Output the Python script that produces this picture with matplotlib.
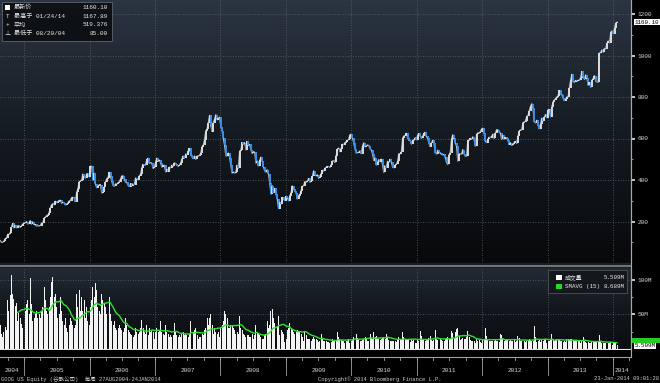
"""
Weekly GOOG price (candles) and volume with a 15 week average, drawn in the
dark Bloomberg terminal style.
"""

# ---------- Imports ---------- #
import numpy as np
import pandas as pd
import matplotlib
matplotlib.use("Agg")
import matplotlib.pyplot as plt
import matplotlib.dates as mdates
from matplotlib.colors import LinearSegmentedColormap
from matplotlib.patches import Rectangle
from matplotlib.lines import Line2D
from matplotlib.transforms import blended_transform_factory

# ---------- Data (weekly closes, one list per year) ---------- #
close_2004 = [108.3, 100.0, 100.0, 105.3, 117.5, 119.8, 137.7, 137.7, 144.1, 172.4,
              190.6, 169.4, 182.0, 169.4, 179.4, 180.4, 171.6, 180.0, 187.9, 192.8]
close_2005 = [193.9, 199.9, 188.3, 190.3, 204.4, 187.4, 197.9, 185.2, 185.9, 177.8,
              180.0, 179.3, 180.0, 192.1, 191.4, 215.8, 220.0, 228.0, 231.0, 241.6,
              266.0, 280.3, 286.3, 280.3, 297.3, 291.3, 296.2, 301.2, 302.4, 287.8,
              292.4, 289.7, 280.0, 283.6, 288.5, 299.1, 300.2, 315.4, 316.5, 312.9,
              296.1, 339.9, 358.2, 390.4, 395.0, 400.2, 428.6, 417.7, 409.2, 430.2,
              430.9, 414.9]
close_2006 = [465.7, 466.3, 399.5, 433.5, 381.6, 362.6, 368.8, 377.4, 378.2, 337.5,
              339.8, 365.8, 390.0, 406.2, 411.2, 437.1, 417.9, 394.3, 374.1, 370.0,
              381.4, 379.4, 386.6, 390.7, 404.9, 419.3, 420.5, 403.5, 390.1, 388.1,
              373.9, 368.5, 383.4, 373.3, 378.6, 377.9, 409.9, 403.8, 401.9, 420.5,
              427.3, 459.7, 475.2, 471.8, 473.6, 498.8, 505.0, 480.8, 484.1, 480.3,
              455.6, 460.5]
close_2007 = [487.2, 505.0, 489.8, 495.8, 481.5, 461.9, 469.9, 470.6, 438.7, 452.9,
              440.9, 461.8, 458.2, 471.5, 466.3, 482.5, 479.0, 471.1, 466.7, 470.3,
              483.5, 500.4, 515.5, 505.9, 524.9, 522.7, 539.4, 552.2, 520.1, 511.9,
              503.0, 515.8, 500.0, 515.0, 515.3, 519.4, 528.8, 560.1, 567.3, 594.1,
              637.4, 644.7, 674.6, 711.3, 663.0, 633.6, 676.7, 693.0, 714.9, 690.0,
              696.7, 702.5]
close_2008 = [657.0, 638.3, 600.3, 566.4, 515.9, 516.7, 529.6, 507.8, 471.2, 433.4,
              437.9, 433.6, 438.1, 471.1, 457.5, 539.4, 544.1, 581.3, 573.2, 580.1,
              544.6, 585.8, 567.0, 571.5, 546.4, 528.1, 537.0, 533.8, 481.3, 492.0,
              467.9, 495.0, 510.2, 490.6, 463.3, 444.3, 437.7, 449.2, 431.0, 386.9,
              332.0, 372.5, 339.3, 359.4, 331.1, 310.0, 262.4, 293.0, 284.0, 315.8,
              310.2, 300.4]
close_2009 = [321.3, 315.1, 299.7, 324.7, 338.5, 371.3, 357.7, 346.5, 338.0, 308.6,
              324.4, 330.2, 347.7, 369.8, 372.5, 392.2, 389.5, 393.7, 407.3, 390.0,
              393.5, 417.2, 444.3, 424.8, 420.1, 425.3, 408.5, 414.4, 430.3, 446.7,
              443.1, 457.1, 460.0, 465.2, 464.8, 461.3, 472.1, 491.5, 492.5, 484.6,
              516.3, 549.9, 553.7, 536.1, 551.1, 572.1, 570.0, 579.8, 585.0, 590.5,
              596.4, 618.5]
close_2010 = [620.0, 602.0, 580.0, 550.0, 529.9, 531.3, 533.1, 540.8, 526.8, 564.2,
              579.5, 560.0, 562.7, 568.8, 566.2, 550.1, 545.0, 525.7, 493.1, 507.5,
              472.1, 485.6, 498.7, 488.5, 500.0, 472.7, 436.6, 467.5, 459.6, 490.1,
              484.9, 500.2, 486.4, 462.0, 458.8, 470.3, 476.1, 490.2, 527.3, 525.6,
              536.4, 601.5, 612.5, 613.7, 625.1, 603.3, 590.8, 590.0, 573.0, 592.2,
              590.8, 604.2, 594.0]
close_2011 = [616.4, 624.2, 611.8, 601.0, 611.0, 624.5, 630.1, 610.0, 600.6, 576.7,
              561.1, 579.7, 591.8, 578.2, 530.7, 525.1, 544.1, 535.3, 529.6, 524.0,
              520.9, 523.1, 509.5, 485.0, 474.9, 521.0, 532.0, 597.6, 618.2, 603.7,
              579.0, 563.8, 490.9, 526.9, 524.8, 524.9, 546.7, 525.5, 515.0, 515.1,
              591.7, 590.5, 600.1, 596.1, 608.4, 594.9, 563.0, 620.4, 627.4, 626.0,
              633.1, 645.9]
close_2012 = [650.0, 625.0, 586.0, 580.0, 596.3, 605.9, 604.6, 609.9, 621.3, 600.3,
              625.0, 642.6, 641.2, 632.3, 624.6, 596.1, 615.0, 597.0, 605.2, 600.4,
              591.5, 571.0, 580.3, 566.8, 571.5, 580.1, 586.0, 576.5, 610.8, 635.0,
              641.3, 642.0, 677.1, 678.6, 685.1, 706.2, 709.7, 734.0, 754.5, 767.7,
              744.8, 681.8, 675.2, 687.9, 663.0, 647.2, 668.0, 698.4, 684.2, 702.0,
              715.6, 700.0]
close_2013 = [738.0, 740.0, 704.5, 753.7, 775.6, 785.4, 792.9, 799.7, 806.2, 831.5,
              814.3, 810.3, 794.2, 783.1, 790.1, 799.9, 801.4, 845.7, 880.2, 909.2,
              873.3, 871.2, 879.7, 875.0, 880.9, 880.4, 893.5, 923.0, 896.6, 885.4,
              906.6, 890.4, 856.9, 870.2, 846.9, 879.6, 889.1, 903.1, 876.4, 872.4,
              872.0, 1011.4, 1015.2, 1027.0, 1016.0, 1033.6, 1031.9, 1059.6, 1069.9, 1060.8,
              1111.0, 1118.4]
close_2014 = [1105.0, 1131.0, 1156.2, 1160.1]

# weekly volume, millions of shares
vol_2004 = [35, 22, 18, 25, 32, 28, 70, 55, 78, 107, 80, 72, 62, 66, 40, 52, 45, 36, 30, 28]
vol_2005 = [55, 65, 70, 50, 102, 65, 40, 45, 50, 55, 45, 50, 45, 55, 60, 90, 70, 55, 50, 60,
            75, 96, 104, 75, 80, 60, 45, 50, 75, 55, 40, 35, 45, 30, 25, 35, 45, 40, 35, 30,
            35, 80, 60, 85, 55, 75, 55, 70, 45, 60, 40, 35]
vol_2006 = [60, 70, 90, 75, 95, 85, 60, 55, 50, 80, 70, 65, 60, 50, 40, 75, 50, 40, 35, 40,
            30, 28, 30, 35, 30, 28, 25, 30, 45, 35, 28, 25, 22, 20, 18, 20, 30, 25, 22, 25,
            30, 42, 30, 25, 22, 35, 20, 30, 25, 28, 25, 15]
vol_2007 = [25, 30, 25, 28, 40, 25, 22, 20, 35, 25, 22, 18, 20, 18, 20, 38, 25, 20, 18, 20,
            18, 22, 25, 20, 22, 20, 18, 22, 40, 30, 25, 28, 30, 20, 15, 18, 18, 22, 20, 28,
            30, 45, 35, 45, 50, 35, 22, 30, 25, 22, 25, 18]
vol_2008 = [30, 35, 40, 55, 50, 45, 30, 30, 35, 35, 30, 28, 22, 25, 22, 48, 30, 28, 22, 20,
            18, 20, 20, 18, 18, 22, 15, 20, 35, 25, 22, 20, 18, 15, 15, 20, 22, 40, 30, 35,
            55, 58, 45, 38, 35, 32, 48, 20, 28, 25, 22, 10]
vol_2009 = [15, 28, 30, 38, 30, 28, 24, 22, 25, 28, 24, 26, 22, 18, 12, 25, 20, 15, 15, 14,
            12, 14, 18, 15, 14, 13, 10, 12, 22, 14, 12, 12, 11, 10, 10, 9, 10, 14, 12, 12,
            13, 25, 18, 14, 13, 12, 12, 9, 12, 11, 14, 8]
vol_2010 = [11, 15, 18, 26, 22, 16, 14, 12, 11, 13, 15, 17, 16, 12, 11, 22, 16, 15, 24, 17,
            19, 15, 14, 13, 15, 16, 17, 15, 22, 17, 13, 12, 11, 12, 11, 11, 10, 13, 17, 14,
            13, 24, 18, 14, 15, 13, 14, 10, 14, 12, 13, 9, 9]
vol_2011 = [13, 12, 26, 19, 15, 13, 12, 13, 14, 16, 19, 13, 12, 13, 27, 15, 13, 12, 14, 13,
            11, 12, 14, 16, 18, 15, 14, 26, 23, 16, 25, 29, 31, 19, 13, 14, 16, 15, 14, 17,
            26, 17, 13, 12, 11, 11, 9, 15, 12, 13, 10, 8]
vol_2012 = [13, 13, 30, 19, 13, 12, 12, 11, 12, 12, 13, 12, 12, 10, 22, 20, 14, 12, 13, 14,
            13, 12, 13, 12, 12, 13, 10, 11, 19, 16, 12, 11, 15, 11, 10, 12, 13, 14, 13, 12,
            12, 33, 17, 10, 12, 13, 10, 14, 12, 13, 15, 9]
vol_2013 = [12, 11, 14, 22, 15, 12, 13, 14, 13, 14, 12, 11, 10, 11, 10, 14, 15, 13, 14, 15,
            13, 11, 11, 11, 12, 12, 8, 11, 18, 13, 10, 9, 10, 9, 8, 10, 10, 12, 10, 10,
            10, 20, 10, 9, 8, 8, 8, 7, 9, 9, 10, 6]
vol_2014 = [8, 9, 8, 5.509]

year_labels = ["2004", "2005", "2006", "2007", "2008", "2009",
               "2010", "2011", "2012", "2013", "2014"]
price_ticks = [200, 400, 600, 800, 1000, 1200]
vol_ticks = [50, 100]
vol_tick_labels = ["50M", "100M"]

close = np.array(close_2004 + close_2005 + close_2006 + close_2007 + close_2008 + close_2009
                 + close_2010 + close_2011 + close_2012 + close_2013 + close_2014)
volume = np.array(vol_2004 + vol_2005 + vol_2006 + vol_2007 + vol_2008 + vol_2009
                  + vol_2010 + vol_2011 + vol_2012 + vol_2013 + vol_2014, dtype=float)
n = min(len(close), len(volume))
close, volume = close[:n], volume[:n]
weeks = pd.date_range("2004-08-20", periods=n, freq="W-FRI")
xx = mdates.date2num(weeks)

prev = np.r_[close[0], close[:-1]]
up = close >= prev
smavg = pd.Series(volume).rolling(15).mean().values

# ---------- Figure layout (pixel based) ---------- #
W, H = 660, 383
FS = 4.4
plt.rcParams["font.family"] = ["Liberation Mono", "Noto Sans CJK SC", "DejaVu Sans"]

def fx(px):
    return px / W

def fy(py):
    return 1 - py / H

fig = plt.figure(figsize=(6.6, 3.83), dpi=100, facecolor="black")
ax_p = fig.add_axes([0, fy(263), fx(631), 263 / H])
ax_v = fig.add_axes([0, fy(350), fx(631), (350 - 268) / H], sharex=ax_p)
ax_x = fig.add_axes([0, fy(377), fx(631), (377 - 357) / H], sharex=ax_p)

x_left = mdates.date2num(pd.Timestamp("2004-08-19"))
x_right = mdates.date2num(pd.Timestamp("2014-04-12"))
year_starts = mdates.date2num(pd.to_datetime([f"{y}-01-01" for y in range(2005, 2015)]))


def paint(ax, bottom, mid, top):
    cmap = LinearSegmentedColormap.from_list("bg", [bottom, mid, top])
    ax.imshow(np.linspace(0, 1, 256).reshape(-1, 1), cmap=cmap, extent=[0, 1, 0, 1],
              transform=ax.transAxes, aspect="auto", origin="lower", zorder=0)


GRID = dict(color="#5c646e", lw=0.6, linestyle=(0, (1, 2)), zorder=1)

# ----- price panel ----- #
paint(ax_p, "#08090b", "#151b22", "#2b3542")
for ys in year_starts:
    ax_p.axvline(ys, **GRID)
for t in price_ticks:
    ax_p.axhline(t, **GRID)
ax_p.plot(xx, close, color="#b4b9be", lw=0.9, zorder=2)
ax_p.vlines(xx, np.minimum(prev, close), np.maximum(prev, close),
            colors=np.where(up, "#dcdcdc", "#3a8fe8"), lw=1.4, zorder=3)
ax_p.set_ylim(0, 263 / 0.2075)

# ----- volume panel ----- #
paint(ax_v, "#0b0d10", "#12171d", "#222a34")
for ys in year_starts:
    ax_v.axvline(ys, **GRID)
for t in vol_ticks:
    ax_v.axhline(t, **GRID)
ax_v.bar(xx, volume, width=5.5, color="#f4f4f4", lw=0, zorder=2)
ax_v.axhline(0, color="#e8e8e8", lw=0.8, zorder=3)
ax_v.plot(xx, smavg, color="#2fe02f", lw=1.0, zorder=4)
ax_v.set_ylim(-1.44, 116.9)

for ax in (ax_p, ax_v):
    ax.set_xlim(x_left, x_right)
    for side in ("top", "left", "bottom"):
        ax.spines[side].set_visible(False)
    ax.spines["right"].set_color("#a4a9ae")
    ax.spines["right"].set_linewidth(0.8)
    ax.tick_params(axis="x", which="both", bottom=False, labelbottom=False)
    ax.yaxis.tick_right()
    ax.tick_params(axis="y", which="major", direction="out", length=3, width=1.2,
                   color="#e6e6e6", labelsize=FS, labelcolor="#d0d0d0", pad=2)
    ax.tick_params(axis="y", which="minor", direction="out", length=1.5, width=0.8,
                   color="#8a8f94")

ax_p.set_yticks(price_ticks)
ax_p.set_yticks(np.arange(100, 1300, 200), minor=True)
ax_v.set_yticks(vol_ticks)
ax_v.set_yticklabels(vol_tick_labels)
ax_v.set_yticks([25, 75], minor=True)

# right-hand value tags
tr_p = blended_transform_factory(ax_p.transAxes, ax_p.transData)
ax_p.text(1.006, close[-1], "1160.10", transform=tr_p, fontsize=4.2, color="black",
          va="center", ha="left", clip_on=False,
          bbox=dict(boxstyle="square,pad=0.12", fc="white", ec="none"))
# green SMAVG tag peeking out above the white volume tag
fig.patches.append(Rectangle((fx(632), fy(342.5)), 28 / W, 4.5 / H,
                             transform=fig.transFigure, fc="#22cc22", ec="none", zorder=3))
tr_v = blended_transform_factory(ax_v.transAxes, ax_v.transData)
ax_v.text(1.006, 4.6, "5.509M", transform=tr_v, fontsize=4.2, color="black",
          va="center", ha="left", clip_on=False, zorder=6,
          bbox=dict(boxstyle="square,pad=0.12", fc="white", ec="none"))

# ----- date axis ----- #
ax_x.set_axis_off()
ax_x.set_xlim(x_left, x_right)
ax_x.set_ylim(0, 1)
ax_x.plot([x_left, x_right], [1, 1], color="#9ea3a8", lw=0.8, clip_on=False)
for q in mdates.date2num(pd.date_range("2004-10-01", "2014-04-01", freq="QS")):
    ax_x.plot([q, q], [0.86, 1], color="#9ea3a8", lw=0.6, clip_on=False)
for ys in year_starts:
    ax_x.plot([ys, ys], [0.1, 1], color="#9ea3a8", lw=0.6, clip_on=False)
edges = np.r_[x_left, year_starts, x_right]
for lab, a, b in zip(year_labels, edges[:-1], edges[1:]):
    ax_x.text((a + b) / 2, 0.32, lab, fontsize=FS, color="#d6d6d6",
              ha="center", va="center")

# ---------- Frame pieces in figure pixels ---------- #
fig.patches.append(Rectangle((0, fy(268)), fx(631), 5 / H, transform=fig.transFigure,
                             fc="#1b2026", ec="none", zorder=1))
fig.lines.append(Line2D([0, fx(631)], [fy(265.5), fy(265.5)], transform=fig.transFigure,
                        color="#80868c", lw=1.2, zorder=2))
fig.lines.append(Line2D([fx(631.4), fx(631.4)], [fy(0), fy(357)], transform=fig.transFigure,
                        color="#a4a9ae", lw=0.8, zorder=2))

# top-left price legend
fig.patches.append(Rectangle((fx(2), fy(41)), fx(112) - fx(2), 39 / H,
                             transform=fig.transFigure, fc="#0b0e12", ec="#676c72",
                             lw=0.6, alpha=0.9, zorder=5))
fig.patches.append(Rectangle((fx(5), fy(9.5)), 5 / W, 5 / H, transform=fig.transFigure,
                             fc="white", ec="none", zorder=6))
legend_rows = [("", "最新价", "1160.10", 7.2),
               ("T", "最高于 01/24/14", "1167.89", 16.2),
               ("+", "平均", "519.376", 25.0),
               ("⊥", "最低于 08/20/04", "85.00", 33.6)]
for icon, label, value, ry in legend_rows:
    if icon:
        fig.text(fx(7.5), fy(ry), icon, fontsize=FS, color="#e0e0e0",
                 ha="center", va="center", zorder=7)
    fig.text(fx(14), fy(ry), label, fontsize=FS, color="#e6e6e6",
             ha="left", va="center", zorder=7)
    fig.text(fx(108), fy(ry), value, fontsize=FS, color="#e6e6e6",
             ha="right", va="center", zorder=7)

# volume legend
fig.patches.append(Rectangle((fx(548), fy(293)), fx(627) - fx(548), 23 / H,
                             transform=fig.transFigure, fc="#14181d", ec="#50555b",
                             lw=0.6, alpha=0.95, zorder=5))
for color, label, value, ry in [("white", "成交量", "5.509M", 277.5),
                                ("#22dd22", "SMAVG (15)", "8.689M", 286.5)]:
    fig.patches.append(Rectangle((fx(556), fy(ry + 2.7)), 5.5 / W, 5.5 / H,
                                 transform=fig.transFigure, fc=color, ec="none", zorder=6))
    fig.text(fx(565), fy(ry), label, fontsize=4.2, color="#e6e6e6",
             ha="left", va="center", zorder=7)
    fig.text(fx(625), fy(ry), value, fontsize=4.2, color="#e6e6e6",
             ha="right", va="center", zorder=7)

# footer
fig.text(fx(1), fy(379), "GOOG US Equity (谷歌公司)  每周 27AUG2004-24JAN2014",
         fontsize=4.0, color="#c8c8c8", ha="left", va="center")
fig.text(fx(318), fy(379), "Copyright© 2014 Bloomberg Finance L.P.",
         fontsize=4.0, color="#c8c8c8", ha="left", va="center")
fig.text(fx(659), fy(379), "23-Jan-2014 09:01:28",
         fontsize=4.0, color="#c8c8c8", ha="right", va="center")

fig.savefig("out.png", dpi=100, facecolor="black")
